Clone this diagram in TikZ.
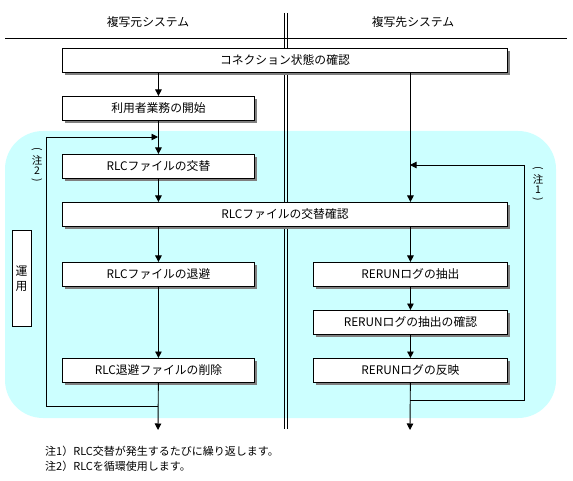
\documentclass[tikz,border=0pt]{standalone}
\usepackage{fontspec}
\setmainfont{Noto Sans CJK JP}
\usetikzlibrary{arrows.meta,shadows}
\definecolor{bgcyan}{RGB}{204,255,255}
\definecolor{shadowgray}{RGB}{128,128,128}
\newcommand{\vopen}{\rotatebox[origin=c]{-90}{(}}
\newcommand{\vclose}{\rotatebox[origin=c]{-90}{)}}
\tikzset{
  box/.style={draw=black, line width=0.9pt, fill=white, rectangle, inner sep=0pt,
    minimum height=24pt, anchor=north west, font=\fontsize{11.8}{13}\selectfont,
    general shadow={fill=shadowgray, shadow xshift=3pt, shadow yshift=-3pt}},
  lbox/.style={box, minimum width=192pt},
  rbox/.style={box, minimum width=194pt},
  wbox/.style={box, minimum width=445pt},
  conn/.style={line width=0.9pt},
  arr/.style={conn, -{Triangle[width=6.5pt,length=6.5pt]}},
  head/.style={font=\fontsize{11.8}{13}\selectfont, inner sep=0pt},
  vlabel/.style={font=\fontsize{10.5}{9}\selectfont, align=center, inner sep=0pt},
  note/.style={font=\fontsize{11}{13}\selectfont, anchor=west, inner sep=0pt},
}
\begin{document}
\begin{tikzpicture}[x=1pt,y=-1pt]
\useasboundingbox (0,0) rectangle (573,481);
% background region
\fill[bgcyan, rounded corners=38pt] (5,131) rectangle (556,418);
% header
\node[head] (hL) at (148,22) {複写元システム};
\node[head] (hR) at (413,22) {複写先システム};
\draw[conn] (5,38) -- (567,38);
\draw[conn] (284,13) -- (284,429);
\draw[conn] (287,13) -- (287,429);
% boxes
\node[wbox] (b1) at (62,48) {コネクション状態の確認};
\node[lbox] (b2) at (62,96) {利用者業務の開始};
\node[lbox] (b3) at (62,154) {RLCファイルの交替};
\node[wbox] (b4) at (62,202) {RLCファイルの交替確認};
\node[lbox] (b5) at (62,262) {RLCファイルの退避};
\node[lbox] (b6) at (62,358) {RLC退避ファイルの削除};
\node[rbox] (r1) at (313,262) {RERUNログの抽出};
\node[rbox] (r2) at (313,310) {RERUNログの抽出の確認};
\node[rbox] (r3) at (313,358) {RERUNログの反映};
% side labels
\node[vlabel] (n2) at (37,166) {\vopen\\[2pt]注\\[1pt]2\\[1pt]\vclose};
\node[vlabel] (n1) at (538,185) {\vopen\\[2pt]注\\[1pt]1\\[1pt]\vclose};
\node[draw, line width=0.9pt, fill=white, minimum width=19pt, minimum height=96pt, inner sep=0pt,
  align=center, font=\fontsize{11.8}{15}\selectfont] (unyo) at (21.5,278.5) {運\\用};
% coordinates
\coordinate (lend) at (158,430);
\coordinate (lj) at (158,406);
\coordinate (lbl) at (46,406);
\coordinate (ltl) at (46,137);
\coordinate (ltr) at (158,137);
\coordinate (rend) at (410,430);
\coordinate (rj) at (410,400);
\coordinate (rbr) at (524,400);
\coordinate (rtr) at (524,165);
\coordinate (rtl) at (410,165);
% connectors left
\draw[arr] (b1.south -| b2.north) -- (b2.north);
\draw[arr] (b2) -- (b3);
\draw[arr] (b3) -- (b4.north -| b3.south);
\draw[arr] (b4.south -| b5.north) -- (b5);
\draw[arr] (b5) -- (b6);
\draw[arr] (b6) -- (lend);
\draw[arr] (lj) -- (lbl) -- (ltl) -- (ltr);
% connectors right
\draw[arr] (b1.south -| r1.north) -- (b4.north -| r1.north);
\draw[arr] (b4.south -| r1.north) -- (r1);
\draw[arr] (r1) -- (r2);
\draw[arr] (r2) -- (r3);
\draw[arr] (r3) -- (rend);
\draw[arr] (rj) -- (rbr) -- (rtr) -- (rtl);
% notes
\node[note] (note1) at (45,451) {注1）RLC交替が発生するたびに繰り返します。};
\node[note] (note2) at (45,466) {注2）RLCを循環使用します。};
\end{tikzpicture}
\end{document}
